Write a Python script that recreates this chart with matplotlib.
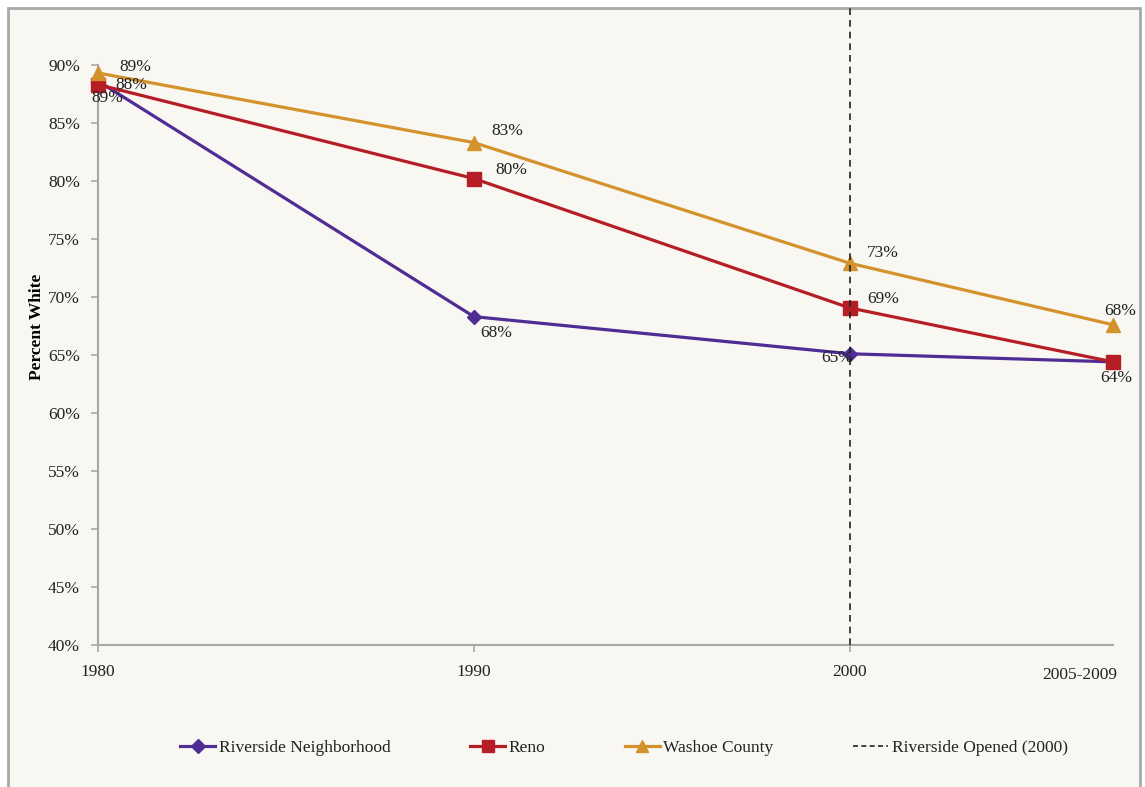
import matplotlib.pyplot as plt
from matplotlib.patches import Rectangle
from matplotlib.lines import Line2D

# share of white residents by year (2007 stands in for the 2005-2009 estimate)
years = [1980, 1990, 2000, 2007]
year_labels = ['1980', '1990', '2000', '2005-2009']
riverside = [88.6, 68.3, 65.1, 64.4]
reno = [88.3, 80.2, 69.05, 64.4]
washoe = [89.3, 83.3, 72.9, 67.6]
opened_year = 2000

purple = '#4F2D94'
red = '#B61E26'
gold = '#D4922C'
axis_gray = '#A8A8A8'
bg = '#F8F7F2'

plt.rcParams['font.family'] = ['Liberation Serif', 'DejaVu Serif']
plt.rcParams['text.color'] = '#222222'

fig = plt.figure(figsize=(11.45, 7.87), dpi=100, facecolor='white')
W, H = 1145, 787

# chart area frame
fig.patches.append(Rectangle((8 / W, -0.02), 1132 / W, 1 - 8 / H + 0.02,
                             transform=fig.transFigure, facecolor=bg,
                             edgecolor=axis_gray, linewidth=2, zorder=-10))

ax = fig.add_axes([98 / W, (H - 645) / H, (1113 - 98) / W, (645 - 8) / H])
ax.set_facecolor('none')

ax.plot(years, riverside, color=purple, lw=2.3, marker='D', ms=7, zorder=3, clip_on=False)
ax.plot(years, reno, color=red, lw=2.3, marker='s', ms=9.5, zorder=3, clip_on=False)
ax.plot(years, washoe, color=gold, lw=2.3, marker='^', ms=9.5, zorder=3, clip_on=False)
ax.axvline(opened_year, color='#222222', lw=1.2, ls=(0, (4, 3)), zorder=4)

ax.set_xlim(1980, 2007)
ax.set_ylim(40, 94.9)
ax.set_yticks(range(40, 91, 5))
ax.set_yticklabels([f'{v}%' for v in range(40, 91, 5)])
ax.set_xticks(years[:3])
ax.set_xticklabels(year_labels[:3])
ax.text(years[3] + 0.1, -0.034, year_labels[3], transform=ax.get_xaxis_transform(),
        ha='right', va='top', fontsize=12.5)

for s in ['top', 'right']:
    ax.spines[s].set_visible(False)
for s in ['left', 'bottom']:
    ax.spines[s].set_color(axis_gray)
    ax.spines[s].set_linewidth(1.5)
ax.spines['left'].set_bounds(40, 90)
ax.tick_params(axis='both', colors=axis_gray, labelcolor='#222222',
               labelsize=12.5, length=5, width=1.2)
ax.tick_params(axis='x', pad=9)
ax.tick_params(axis='y', pad=8)
ax.set_ylabel('Percent White', fontsize=12.5, fontweight='bold', labelpad=2)


def label(x, y, dx, dy):
    ax.annotate(f'{y:.0f}%', (x, y), xytext=(dx, dy), textcoords='offset pixels',
                ha='center', va='center', fontsize=12.5, zorder=5)


# label offsets in pixels
riv_off = [(9, -17), (22, -16), (-13, -4), (3, -16)]
reno_off = [(33, 0), (37, 9), (33, 9), None]
wash_off = [(37, 6), (33, 12), (33, 10), (7, 14)]
for i, x in enumerate(years):
    label(x, riverside[i], *riv_off[i])
    if reno_off[i]:
        label(x, reno[i], *reno_off[i])
    label(x, washoe[i], *wash_off[i])

handles = [
    Line2D([], [], color=purple, lw=2.3, marker='D', ms=7),
    Line2D([], [], color=red, lw=2.3, marker='s', ms=9),
    Line2D([], [], color=gold, lw=2.3, marker='^', ms=9),
    Line2D([], [], color='#222222', lw=1.2, ls=(0, (3, 2))),
]
names = ['Riverside Neighborhood', 'Reno', 'Washoe County', 'Riverside Opened (2000)']
fig.legend(handles, names, loc='center', bbox_to_anchor=(624 / W, (H - 748) / H),
           ncol=4, frameon=False, fontsize=12.5, handlelength=2.0,
           handletextpad=0.2, columnspacing=4.6)

fig.savefig('out.png', dpi=100, facecolor='white')
